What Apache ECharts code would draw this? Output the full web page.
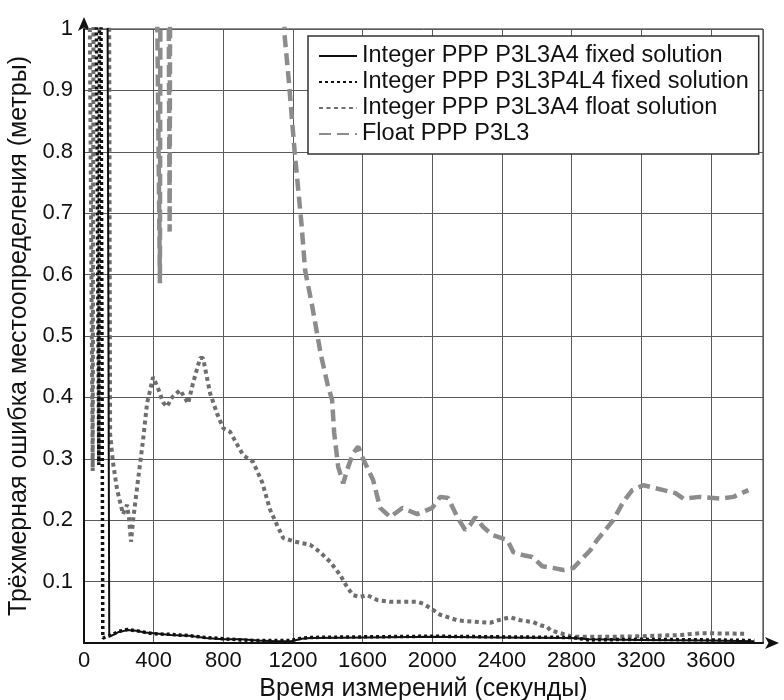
<!DOCTYPE html>
<html>
<head>
<meta charset="utf-8">
<script src="https://cdn.jsdelivr.net/npm/echarts@6/dist/echarts.min.js"></script>
<style>
html,body{margin:0;padding:0;background:#fff;}
#chart{width:784px;height:700px;}
</style>
</head>
<body>
<div id="chart"></div>
<script>
// Series names
const seriesNames = [
  'Integer PPP P3L3A4 fixed solution',
  'Integer PPP P3L3P4L4 fixed solution',
  'Integer PPP P3L3A4 float solution',
  'Float PPP P3L3'
];
// Axis ticks
const xTicks = [0, 400, 800, 1200, 1600, 2000, 2400, 2800, 3200, 3600];
const yTicks = [0, 0.1, 0.2, 0.3, 0.4, 0.5, 0.6, 0.7, 0.8, 0.9, 1];

// [time s, error m] — values above 1 lie outside the plotted range (clipped)
const fixedA4 = [
  [100,1.6],[130,1.6],[145,0.013],[160,0.012],[200,0.018],[250,0.021],[300,0.02],[350,0.017],
  [400,0.016],[500,0.013],[600,0.012],[700,0.008],[800,0.006],[900,0.006],[1000,0.004],
  [1100,0.003],[1190,0.003],[1250,0.007],[1300,0.008],[1600,0.009],[2000,0.01],[2400,0.009],
  [2800,0.008],[2900,0.006],[3200,0.005],[3600,0.004],[3850,0.003]
];
const fixedP4L4 = [
  [60,1.6],[85,0.29],[92,1.6],[100,1.6],[108,0.008],[150,0.012],[200,0.019],[250,0.022],
  [300,0.02],[400,0.015],[500,0.014],[600,0.012],[700,0.009],[800,0.007],[900,0.005],
  [1000,0.004],[1190,0.004],[1250,0.008],[1300,0.009],[1600,0.01],[2000,0.011],[2400,0.01],
  [2800,0.009],[2900,0.005],[3200,0.006],[3600,0.005],[3850,0.004]
];
const floatA4 = [
  [20,1.6],[50,0.28],[58,1.6],[140,1.6],[150,0.34],[167,0.293],[190,0.25],[207,0.23],
  [224,0.21],[247,0.225],[258,0.205],[270,0.165],[282,0.2],[310,0.265],[339,0.33],
  [362,0.39],[397,0.433],[425,0.415],[454,0.392],[477,0.385],[506,0.4],[552,0.412],
  [586,0.396],[598,0.39],[626,0.423],[667,0.464],[684,0.464],[724,0.407],[764,0.374],
  [799,0.35],[839,0.344],[914,0.306],[971,0.295],[1023,0.262],[1069,0.217],[1109,0.192],
  [1144,0.171],[1213,0.165],[1299,0.16],[1356,0.148],[1414,0.132],[1471,0.111],
  [1511,0.091],[1546,0.078],[1586,0.075],[1626,0.078],[1684,0.07],[1759,0.067],
  [1914,0.067],[1948,0.064],[1989,0.057],[2046,0.046],[2144,0.037],[2178,0.036],
  [2333,0.033],[2380,0.037],[2448,0.042],[2506,0.037],[2580,0.034],[2621,0.029],
  [2661,0.026],[2678,0.021],[2736,0.016],[2810,0.01],[3006,0.01],[3195,0.011],
  [3425,0.013],[3540,0.016],[3810,0.015]
];
const floatPPP = [
  [400,1.6],[436,0.586],[442,1.6],[478,1.6],[492,0.67],[498,1.6],[1140,1.6],
  [1152,0.99],[1175,0.92],[1210,0.8],[1250,0.68],[1270,0.607],[1310,0.55],[1360,0.47],
  [1400,0.42],[1425,0.396],[1437,0.342],[1460,0.287],[1489,0.26],[1511,0.282],
  [1546,0.309],[1575,0.32],[1603,0.3],[1661,0.265],[1701,0.22],[1759,0.205],[1828,0.22],
  [1914,0.21],[2000,0.22],[2046,0.238],[2092,0.236],[2144,0.205],[2190,0.184],
  [2218,0.192],[2247,0.205],[2293,0.189],[2345,0.176],[2431,0.168],[2466,0.148],
  [2523,0.143],[2575,0.14],[2632,0.125],[2700,0.122],[2753,0.119],[2810,0.122],
  [2908,0.151],[2948,0.168],[3040,0.2],[3098,0.23],[3149,0.249],[3213,0.257],
  [3328,0.249],[3397,0.244],[3443,0.235],[3540,0.238],[3655,0.235],[3730,0.238],
  [3816,0.249]
];

const chart = echarts.init(document.getElementById('chart'));
const gridCol = '#5a5a5a';
const sans = 'Liberation Sans, Arial, sans-serif';
chart.setOption({
  animation: false,
  backgroundColor: '#fff',
  grid: {left: 84, right: 21, top: 29, bottom: 57, show: true, borderColor: '#222', borderWidth: 1,
    containLabel: false, outerBoundsMode: 'none'},
  legend: {
    show: true,
    orient: 'vertical', left: 308, top: 36,
    backgroundColor: '#fff', borderColor: '#333', borderWidth: 1.5,
    padding: [8, 10, 8, 10], itemWidth: 38, itemHeight: 17, itemGap: 2,
    itemStyle: {opacity: 0, borderWidth: 0},
    textStyle: {fontFamily: sans, fontSize: 23.5, color: '#111'},
    data: seriesNames
  },
  xAxis: {
    type: 'value', min: 0, max: 3900, interval: 400,
    name: 'Время измерений (секунды)', nameLocation: 'middle', nameGap: 32,
    nameTextStyle: {fontFamily: sans, fontSize: 25, color: '#111'},
    axisLine: {show: true, onZero: false, lineStyle: {color: '#111', width: 2}, symbol: ['none', 'arrow'], symbolSize: [9, 14], symbolOffset: [0, 16]},
    axisTick: {show: false},
    axisLabel: {
      color: '#111', fontSize: 22, fontFamily: 'Liberation Sans Narrow, Arial Narrow, Liberation Sans, sans-serif', margin: 7,
      showMaxLabel: false,
      formatter: v => xTicks.indexOf(v) >= 0 ? String(v) : ''
    },
    splitLine: {show: true, lineStyle: {color: gridCol, width: 1}}
  },
  yAxis: {
    type: 'value', min: 0, max: 1, interval: 0.1,
    name: 'Трёхмерная ошибка местоопределения (метры)', nameLocation: 'middle', nameGap: 40,
    nameTextStyle: {fontFamily: sans, fontSize: 25, color: '#111'},
    axisLine: {show: true, lineStyle: {color: '#111', width: 2}, symbol: ['none', 'arrow'], symbolSize: [9, 14], symbolOffset: [0, 12]},
    axisTick: {show: false},
    axisLabel: {
      color: '#111', fontSize: 22, fontFamily: sans, margin: 11,
      formatter: v => {
        const r = Math.round(v * 10) / 10;
        if (r === 0) return '';
        if (r === 1) return '1';
        return yTicks.indexOf(r) >= 0 ? r.toFixed(1) : '';
      }
    },
    splitLine: {show: true, lineStyle: {color: gridCol, width: 1}}
  },
  series: [
    {name: seriesNames[0], type: 'line', data: fixedA4, showSymbol: false, symbol: 'none', clip: true, z: 5,
      lineStyle: {color: '#111', width: 2, type: 'solid'}, itemStyle: {color: '#111'}},
    {name: seriesNames[1], type: 'line', data: fixedP4L4, showSymbol: false, symbol: 'none', clip: true, z: 4,
      lineStyle: {color: '#111', width: 3.5, type: [3, 3]}, itemStyle: {color: '#111'}},
    {name: seriesNames[2], type: 'line', data: floatA4, showSymbol: false, symbol: 'none', clip: true, z: 3,
      lineStyle: {color: '#6e6e6e', width: 4, type: [4, 3.5]}, itemStyle: {color: '#6e6e6e'}},
    {name: seriesNames[3], type: 'line', data: floatPPP, showSymbol: false, symbol: 'none', clip: true, z: 3,
      lineStyle: {color: '#8c8c8c', width: 4.5, type: [12, 6]}, itemStyle: {color: '#8c8c8c'}}
  ]
});
</script>
</body>
</html>
